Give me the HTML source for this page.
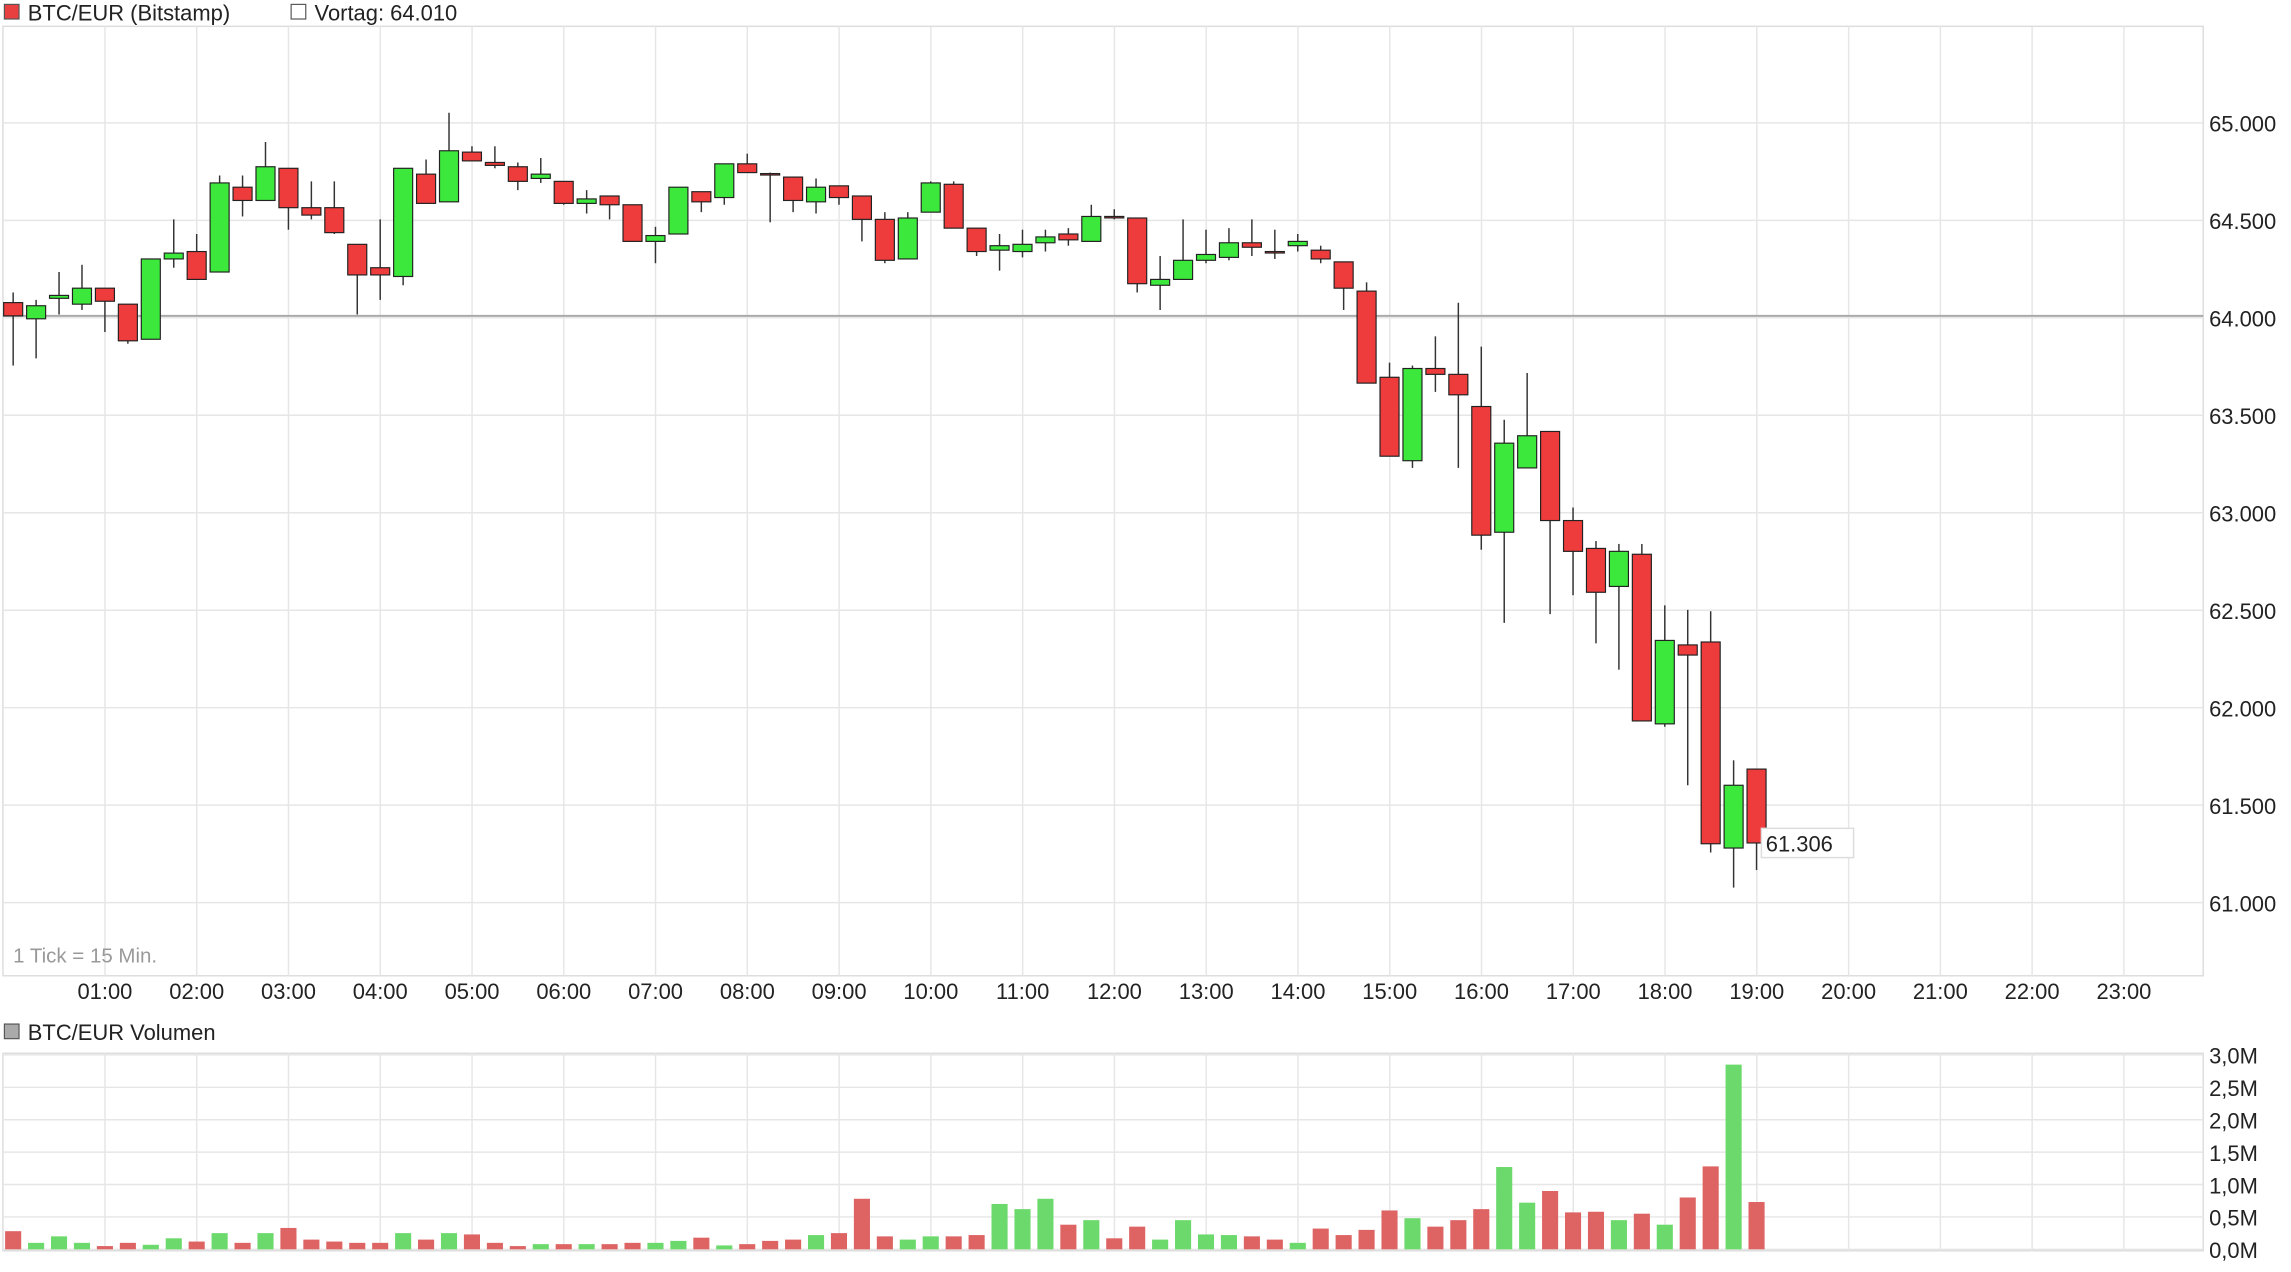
<!DOCTYPE html>
<html><head><meta charset="utf-8">
<style>
html,body{margin:0;padding:0;background:#fff;}
svg{display:block;font-family:"Liberation Sans",Arial,sans-serif;}
</style></head>
<body>
<svg id="c" width="2291" height="1272" viewBox="0 0 1566 869.5" preserveAspectRatio="none" xmlns="http://www.w3.org/2000/svg">
  <rect x="3" y="3" width="10" height="10" fill="#e84040" stroke="#555" stroke-width="0.8"/>
  <text x="19" y="14" font-size="15" fill="#222">BTC/EUR (Bitstamp)</text>
  <rect x="199" y="3" width="10" height="10" fill="#fff" stroke="#555" stroke-width="0.8"/>
  <text x="215" y="14" font-size="15" fill="#222">Vortag: 64.010</text>
  <g id="grid"></g>
  <g id="marks"></g>
  <text x="9" y="658" font-size="14" fill="#999">1 Tick = 15 Min.</text>
  <rect x="3" y="700" width="10" height="10" fill="#aaa" stroke="#555" stroke-width="0.8"/>
  <text x="19" y="711" font-size="15" fill="#222">BTC/EUR Volumen</text>
</svg>
<script>
const openP=[64078,63995,64100,64070,64152,64070,63890,64302,64340,64235,64670,64602,64767,64565,64565,64377,64257,64212,64737,64595,64850,64797,64775,64715,64700,64587,64625,64580,64392,64430,64647,64617,64790,64740,64722,64595,64677,64625,64505,64302,64542,64685,64460,64347,64340,64385,64430,64392,64520,64512,64167,64197,64295,64310,64385,64340,64370,64347,64287,64137,63695,63267,63740,63710,63545,62900,63230,63417,62960,62817,62622,62787,61917,62322,62337,61280,61685];
const highP=[64130,64092,64235,64272,64152,64070,64302,64505,64430,64730,64730,64902,64767,64700,64700,64377,64505,64767,64812,65052,64880,64880,64797,64820,64700,64655,64625,64580,64467,64670,64647,64790,64842,64745,64722,64715,64677,64625,64542,64542,64700,64700,64460,64430,64452,64452,64460,64580,64557,64512,64317,64505,64452,64460,64505,64452,64430,64370,64287,64182,63770,63755,63905,64077,63852,63477,63717,63417,63027,62855,62840,62840,62525,62502,62495,61730,61685];
const lowP=[63755,63792,64017,64040,63927,63867,63890,64257,64197,64235,64520,64602,64452,64505,64430,64017,64092,64167,64587,64595,64805,64767,64655,64692,64580,64535,64505,64392,64280,64430,64542,64580,64745,64490,64542,64535,64580,64392,64280,64302,64542,64460,64317,64242,64310,64340,64370,64392,64505,64130,64040,64197,64280,64295,64317,64302,64340,64280,64040,63665,63290,63230,63620,63230,62810,62435,63230,62480,62577,62330,62195,61932,61902,61602,61257,61077,61167];
const closeP=[64010,64062,64115,64152,64085,63882,64302,64332,64197,64692,64602,64775,64565,64527,64437,64220,64220,64767,64587,64857,64805,64782,64700,64737,64587,64610,64580,64392,64422,64670,64595,64790,64745,64737,64602,64670,64617,64505,64295,64512,64692,64460,64340,64370,64377,64415,64400,64520,64516,64175,64197,64295,64325,64385,64362,64336,64392,64302,64152,63665,63290,63740,63710,63605,62885,63357,63395,62960,62802,62592,62802,61932,62345,62270,61302,61602,61306];
const volumes=[0.28,0.1,0.2,0.1,0.05,0.1,0.07,0.17,0.12,0.25,0.1,0.25,0.33,0.15,0.12,0.1,0.1,0.25,0.15,0.25,0.23,0.1,0.05,0.08,0.08,0.08,0.08,0.1,0.1,0.13,0.18,0.06,0.08,0.13,0.15,0.22,0.25,0.78,0.2,0.15,0.2,0.2,0.22,0.7,0.62,0.78,0.38,0.45,0.17,0.35,0.15,0.45,0.23,0.22,0.2,0.15,0.1,0.32,0.22,0.3,0.6,0.48,0.35,0.45,0.62,1.27,0.72,0.9,0.57,0.58,0.45,0.55,0.38,0.8,1.28,2.85,0.73];
const priceTicks=[61000,61500,62000,62500,63000,63500,64000,64500,65000];
const priceTickLabels=["61.000","61.500","62.000","62.500","63.000","63.500","64.000","64.500","65.000"];
const hourLabels=["01:00","02:00","03:00","04:00","05:00","06:00","07:00","08:00","09:00","10:00","11:00","12:00","13:00","14:00","15:00","16:00","17:00","18:00","19:00","20:00","21:00","22:00","23:00"];
const volTicks=[0,0.5,1,1.5,2,2.5,3];
const volTickLabels=["0,0M","0,5M","1,0M","1,5M","2,0M","2,5M","3,0M"];
const prevClose=64010;

const NS="http://www.w3.org/2000/svg";
const yP=p=>84+(65000-p)*0.13325;
const xI=i=>9+i*15.68;
const xH=h=>9+h*62.73;
const yV=v=>854-v*44.3;
function mk(tag,attrs,parent,txt){const e=document.createElementNS(NS,tag);for(const k in attrs)e.setAttribute(k,attrs[k]);if(txt!==undefined)e.textContent=txt;parent.appendChild(e);return e;}
const grid=document.getElementById('grid'),marks=document.getElementById('marks');
let e=mk('rect',{x:2,y:18,width:1504,height:649,fill:'none',stroke:'#ddd'},grid);


e=mk('rect',{x:2,y:720,width:1504,height:135,fill:'none',stroke:'#ddd'},grid);


hourLabels.forEach((l,k)=>{const x=xH(k+1);
 mk('line',{x1:x,x2:x,y1:18,y2:667,stroke:'#e6e6e6'},grid);
 mk('line',{x1:x,x2:x,y1:720,y2:855,stroke:'#e6e6e6'},grid);
 e=mk('text',{x:x,y:683,'font-size':15,fill:'#222','text-anchor':'middle'},grid,l);
 
 
});
priceTicks.forEach((p,k)=>{const y=yP(p);
 mk('line',{x1:2,x2:1506,y1:y,y2:y,stroke:'#e6e6e6'},grid);
 e=mk('text',{x:1510,y:y+6,'font-size':15,fill:'#222'},grid,priceTickLabels[k]);
 
 
});
volTicks.forEach((v,k)=>{const y=yV(v);
 mk('line',{x1:2,x2:1506,y1:y,y2:y,stroke:'#e6e6e6'},grid);
 e=mk('text',{x:1510,y:y+6,'font-size':15,fill:'#222'},grid,volTickLabels[k]);
 
 
});
e=mk('line',{x1:2,x2:1506,y1:yP(prevClose),y2:yP(prevClose),stroke:'#aaa','stroke-width':1.3},grid);


openP.forEach((o,i)=>{const c=closeP[i],x=xI(i),up=c>o;
 mk('line',{x1:x,x2:x,y1:yP(highP[i]),y2:yP(lowP[i]),stroke:'#333','stroke-width':1},marks);
 const t=yP(Math.max(o,c)),b=yP(Math.min(o,c));
 e=mk('rect',{x:x-6.5,y:t,width:13,height:Math.max(b-t,1),fill:up?'#3be83b':'#ee3b3b',stroke:'#222','stroke-width':0.8},marks);
 
 
 const v=volumes[i];
 e=mk('rect',{x:x-5.5,y:yV(v),width:11,height:854-yV(v),fill:up?'#6bd96b':'#de6464'},marks);
 
 
});
const last=closeP[closeP.length-1],ly=yP(last);
e=mk('rect',{x:1204,y:ly-10,width:63,height:20,fill:'#fff',stroke:'#ddd'},marks);


e=mk('text',{x:1207,y:ly+6,'font-size':15,fill:'#222'},marks,last.toLocaleString('de-DE'));


</script>
</body></html>
